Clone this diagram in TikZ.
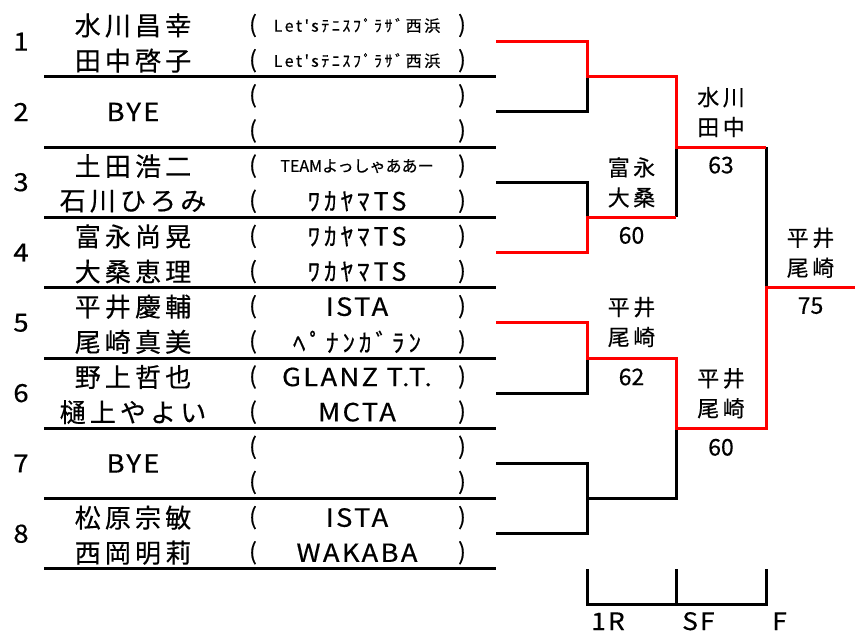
\documentclass[tikz,border=0pt]{standalone}
\usepackage{fontspec}
\setmainfont[FakeBold=0.4]{Noto Sans CJK JP}
\newfontfamily\wide[LetterSpace=16,FakeBold=0.4]{Noto Sans CJK JP}
\newfontfamily\latin[LetterSpace=9,FakeBold=0.4,FakeStretch=1.1]{Noto Sans CJK JP}
\newcommand\smallclub{\wide\fontsize{16}{16}\selectfont}
\newcommand\plainclub{\normalfont\fontsize{16}{16}\selectfont}
\usetikzlibrary{positioning,calc}

\begin{document}
\begin{tikzpicture}[x=1pt,y=-1pt,
    rule/.style={line width=3pt},
    won/.style={rule,red},
    seed/.style={font=\latin\fontsize{25}{25}\selectfont,inner sep=0pt},
    player/.style={font=\wide\fontsize{26}{26}\selectfont,inner sep=0pt},
    club/.style={font=\latin\fontsize{25}{25}\selectfont,inner sep=0pt},
    paren/.style={font=\fontsize{23}{23}\selectfont,inner sep=0pt},
    pair/.style={font=\wide\fontsize{22}{30}\selectfont,align=center,inner sep=0pt},
    score/.style={font=\fontsize{23}{23}\selectfont,inner sep=0pt},
    stage/.style={font=\latin\fontsize{24}{24}\selectfont,inner sep=0pt,anchor=base west}]
    \useasboundingbox (0,0) rectangle (855,634);
    % draw table
    \foreach \k in {1,...,8} {
        \node[seed] (sd\k) at (21,{6.5+70.3*\k-35.15}) {\k};
        \draw[rule] (44,{6.5+70.3*\k}) -- (496,{6.5+70.3*\k});
        \coordinate (e\k) at (496,{6.5+70.3*\k-35.15});
        \coordinate (p\k) at (587,{6.5+70.3*\k-35.15});
    }
    \foreach \r in {1,...,16} {
        \node[paren] (lp\r) at (253,{25.5+35.15*(\r-1)}) {(};
        \node[paren] (rp\r) at (462,{25.5+35.15*(\r-1)}) {)};
    }
    \foreach \r/\who/\team in {1/水川昌幸/{\smallclub Let'sﾃﾆｽﾌﾟﾗｻﾞ西浜}, 2/田中啓子/{\smallclub Let'sﾃﾆｽﾌﾟﾗｻﾞ西浜},
        5/土田浩二/{\plainclub TEAMよっしゃああー}, 6/石川ひろみ/{\wide ﾜｶﾔﾏTS}, 7/富永尚晃/{\wide ﾜｶﾔﾏTS}, 8/大桑恵理/{\wide ﾜｶﾔﾏTS},
        9/平井慶輔/ISTA, 10/尾崎真美/{\wide ﾍﾟﾅﾝｶﾞﾗﾝ}, 11/野上哲也/GLANZ T.T., 12/樋上やよい/MCTA,
        15/松原宗敏/ISTA, 16/西岡明莉/WAKABA} {
        \node[player] (nm\r) at (133,{25.5+35.15*(\r-1)}) {\who};
        \node[club] (cb\r) at (357,{25.5+35.15*(\r-1)}) {\team};
    }
    \node[club] (bye2) at (133,111.95) {BYE};
    \node[club] (bye7) at (133,463.45) {BYE};
    % bracket
    \foreach \k in {1,...,4} {
        \coordinate (a\k) at (587,{6.5+140.6*\k-70.3});
        \coordinate (b\k) at (676,{6.5+140.6*\k-70.3});
    }
    \foreach \k in {1,2} {
        \coordinate (c\k) at (676,{6.5+281.2*\k-140.6});
        \coordinate (d\k) at (766,{6.5+281.2*\k-140.6});
    }
    \coordinate (fin) at (766,287.7);
    \coordinate (champ) at (855,287.7);
    \draw[rule] (e2) -- (p2) -- (a1);
    \draw[rule] (e3) -- (p3) -- (a2);
    \draw[rule] (b2) -- (c1);
    \draw[rule] (e6) -- (p6) -- (a3);
    \draw[rule] (e7) -- (p7) -- (p8) -- (e8);
    \draw[rule] (a4) -- (b4) -- (c2);
    \draw[rule] (d1) -- (fin);
    \draw[won] (e1) -- (p1) -- (a1) -- (b1) -- (c1) -- (d1);
    \draw[won] (e4) -- (p4) -- (a2) -- (b2);
    \draw[won] (e5) -- (p5) -- (a3) -- (b3) -- (c2) -- (d2) -- (fin) -- (champ);
    % results
    \node[pair] (w2) at ($(a2)!.5!(b2)+(0,-35)$) {富永\\大桑};
    \node[score] (s2) at ($(a2)!.5!(b2)+(0,18)$) {60};
    \node[pair] (w3) at ($(a3)!.5!(b3)+(0,-36)$) {平井\\尾崎};
    \node[score] (s3) at ($(a3)!.5!(b3)+(0,19)$) {62};
    \node[pair] (v1) at ($(c1)!.5!(d1)+(0,-35)$) {水川\\田中};
    \node[score] (t1) at ($(c1)!.5!(d1)+(0,18)$) {63};
    \node[pair] (v2) at ($(c2)!.5!(d2)+(0,-35)$) {平井\\尾崎};
    \node[score] (t2) at ($(c2)!.5!(d2)+(0,19)$) {60};
    \node[pair] (champion) at ($(fin)!.5!(champ)+(0,-35)$) {平井\\尾崎};
    \node[score] (final) at ($(fin)!.5!(champ)+(0,18)$) {75};
    % round scale
    \coordinate (r1) at (587,569);
    \coordinate (r2) at (676,569);
    \coordinate (r3) at (766,569);
    \coordinate (q1) at (587,604);
    \coordinate (q2) at (676,604);
    \coordinate (q3) at (766,604);
    \draw[rule] (r1) -- (q1) -- (q3) -- (r3);
    \draw[rule] (r2) -- (q2);
    \node[stage] (lab1) at (591,630) {1R};
    \node[stage] (lab2) at (682,630) {SF};
    \node[stage] (lab3) at (772,630) {F};
\end{tikzpicture}
\end{document}
